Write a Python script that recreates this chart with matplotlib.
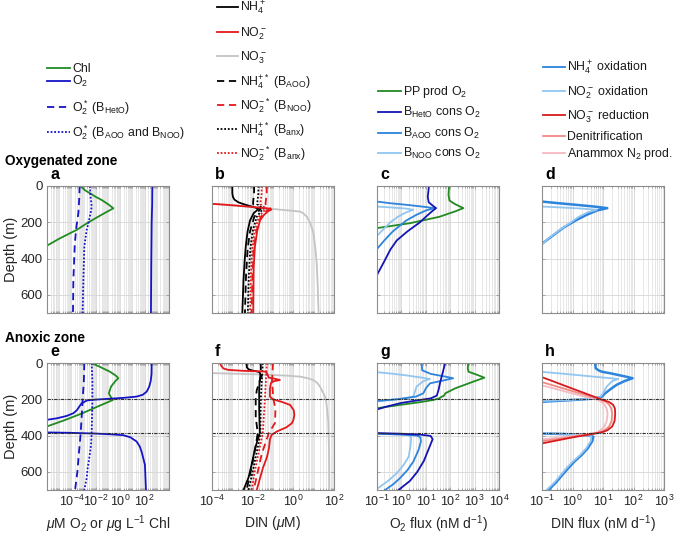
import numpy as np
import matplotlib
matplotlib.use("Agg")
import matplotlib.pyplot as plt
from matplotlib.lines import Line2D
from matplotlib.ticker import FixedLocator, LogLocator, NullFormatter

plt.rcParams['font.family'] = ['Liberation Sans', 'DejaVu Sans']
plt.rcParams['mathtext.fontset'] = 'custom'
plt.rcParams['mathtext.rm'] = 'Liberation Sans'
plt.rcParams['mathtext.it'] = 'Liberation Sans:italic'
plt.rcParams['mathtext.bf'] = 'Liberation Sans:bold'

# ---------------- data (depth in m, values as log10) ----------------
# panel a (oxygenated) : concentrations
a_chl_z = [0, 22, 40, 60, 77, 100, 123, 150, 169, 200, 242, 288, 336]
a_chl = [-3.24, -2.92, -2.48, -2.0, -1.52, -1.0, -0.56, -1.3, -1.8, -2.6, -3.57, -4.93, -6.2]
a_o2_z = [0, 100, 200, 400, 700]
a_o2 = [2.63, 2.62, 2.58, 2.55, 2.52]
a_o2het_z = [0, 60, 150, 240, 330, 520, 700]
a_o2het = [-3.33, -3.35, -3.43, -3.62, -3.73, -3.84, -3.87]
a_o2aoo_z = [0, 60, 114, 150, 206, 242, 334, 518, 700]
a_o2aoo = [-2.48, -2.43, -2.34, -2.43, -2.61, -2.75, -2.94, -3.02, -3.08]

# panel e (anoxic)
e_o2_z = [0, 60, 100, 130, 158, 175, 185, 192, 198, 203, 207, 215, 222, 240, 260, 277, 292, 305, 318,
          350,
          382, 385, 389, 393, 398, 410, 433, 460, 490, 562, 700]
e_o2 = [2.58, 2.57, 2.5, 2.38, 2.17, 1.85, 1.35, 0.3, -1.1, -2.3, -2.75, -2.95, -3.16, -3.35, -3.55, -3.84, -4.4, -5.2, -6.5,
        np.nan,
        -6.5, -4.0, -2.0, -0.8, 0.26, 0.85, 1.35, 1.6, 1.76, 2.03, 2.11]
e_chl_z = [0, 20, 48, 70, 84, 100, 130, 167, 190, 204, 240, 277, 315, 352]
e_chl = [-2.34, -1.7, -0.84, -0.35, -0.15, -0.4, -0.75, -0.93, -0.75, -0.6, -1.85, -3.1, -4.55, -6.1]
e_o2het_z = [0, 100, 204, 300, 385, 450, 507, 600, 700]
e_o2het = [-2.94, -2.98, -3.08, -3.16, -3.24, -3.32, -3.4, -3.51, -3.7]
e_o2aoo_z = [0, 100, 204, 385, 452, 507, 580, 635, 700]
e_o2aoo = [-2.34, -2.28, -2.28, -2.34, -2.39, -2.5, -2.67, -2.75, -2.94]

# panel b (oxygenated) : DIN
b_nh4_z = [0, 40, 60, 75, 90, 100, 110, 118, 125, 135, 150, 190, 250, 334, 420, 520, 700]
b_nh4 = [-3.0, -3.0, -2.97, -2.9, -2.7, -2.45, -2.15, -1.9, -1.72, -1.8, -1.95, -2.13, -2.25, -2.34, -2.4, -2.45, -2.51]
b_no2_z = [96, 102, 108, 114, 120, 125, 130, 140, 160, 190, 250, 334, 450, 700]
b_no2 = [-4.3, -3.5, -2.8, -2.2, -1.6, -1.15, -1.08, -1.25, -1.45, -1.64, -1.78, -1.89, -1.95, -1.97]
b_no3_z = [96, 102, 108, 114, 120, 125, 130, 135, 141, 150, 169, 200, 261, 340, 426, 550, 700]
b_no3 = [-4.3, -3.5, -2.8, -2.2, -1.6, -1.15, -0.7, -0.2, 0.33, 0.48, 0.66, 0.82, 0.99, 1.08, 1.15, 1.2, 1.24]
b_star_z = [0, 40, 80, 100, 115, 125, 140, 170, 250, 350, 500, 700]
b_nh4_aoo = [-1.93, -1.93, -1.97, -1.98, -1.8, -1.6, -1.72, -1.92, -2.13, -2.25, -2.33, -2.38]
b_no2_noo = [-1.31, -1.31, -1.35, -1.37, -1.25, -1.12, -1.35, -1.6, -1.82, -1.95, -2.01, -2.05]
b_nh4_anx = [-1.72, -1.72, -1.76, -1.78, -1.6, -1.45, -1.6, -1.8, -2.0, -2.12, -2.19, -2.24]
b_no2_anx = [-1.56, -1.56, -1.6, -1.62, -1.45, -1.3, -1.47, -1.7, -1.9, -2.02, -2.09, -2.13]

# panel f (anoxic) : DIN
f_nh4_z = [0, 25, 35, 42, 48, 55, 65, 72, 80, 100, 150, 250, 385, 420, 480, 560, 630, 700]
f_nh4 = [-2.3, -2.28, -2.2, -2.0, -1.72, -1.64, -1.62, -1.55, -1.62, -1.66, -1.68, -1.68, -1.65, -1.75, -1.9, -2.05, -2.2, -2.45]
f_no2_z = [0, 15, 30, 38, 43, 47, 55, 70, 81, 88, 94, 100, 110, 140, 186, 200, 215, 231, 260, 287, 315, 333,
           355, 378, 397, 420, 470, 520, 580, 640, 700]
f_no2 = [-3.61, -3.55, -3.44, -3.2, -2.5, -1.4, -1.3, -1.25, -1.2, -0.85, -0.66, -0.95, -1.1, -1.15, -1.15, -1.0,
         -0.55, -0.16, 0.02, 0.05, 0.0, -0.08, -0.35, -0.82, -1.07, -1.15, -1.2, -1.3, -1.5, -1.65, -1.8]
f_no3_z = [55, 60, 65, 70, 75, 85, 94, 110, 130, 160, 186, 213, 323, 500, 700]
f_no3 = [-4.3, -2.5, -1.2, -0.3, 0.33, 0.75, 0.98, 1.18, 1.31, 1.45, 1.56, 1.62, 1.72, 1.76, 1.77]
f_nh4_aoo_z = [0, 50, 100, 150, 200, 300, 385, 420, 500, 600, 700]
f_nh4_aoo = [-1.6, -1.6, -1.65, -1.8, -1.85, -1.85, -1.75, -1.8, -1.92, -2.1, -2.3]
f_anx_z = [0, 100, 200, 385, 450, 500, 600, 700]
f_nh4_anx = [-1.5, -1.55, -1.6, -1.62, -1.72, -1.82, -2.0, -2.2]
f_no2_anx = [-1.3, -1.35, -1.4, -1.5, -1.62, -1.72, -1.9, -2.05]
f_no2_noo_z = [0, 100, 200, 250, 330, 385, 450, 500, 600, 700]
f_no2_noo = [-1.0, -1.05, -0.98, -0.88, -0.9, -1.2, -1.4, -1.55, -1.75, -1.95]

# panel c (oxygenated) : O2 fluxes
c_pp_z = [0, 50, 80, 100, 122, 140, 170, 205, 232, 245]
c_pp = [1.95, 1.93, 1.97, 2.2, 2.54, 2.2, 1.55, 0.35, -1.0, -1.6]
c_het_z = [0, 60, 90, 110, 122, 140, 170, 200, 250, 300, 350, 420, 490]
c_het = [1.13, 1.08, 1.12, 1.3, 1.42, 1.25, 1.0, 0.76, 0.25, -0.19, -0.45, -0.72, -1.0]
c_aoo_z = [85, 95, 105, 115, 122, 135, 160, 190, 250, 300, 355]
c_aoo = [-1.05, -0.45, 0.3, 0.95, 1.35, 1.0, 0.6, 0.2, -0.35, -0.7, -1.05]
c_noo_z = [113, 118, 124, 131, 145, 170, 200, 240, 282]
c_noo = [-1.05, -0.45, 0.15, 0.49, 0.2, -0.15, -0.45, -0.75, -1.05]

# panel g (anoxic) : O2 fluxes
g_pp_z = [0, 30, 48, 65, 81, 100, 140, 167, 180, 186, 195, 204, 215, 230, 250]
g_pp = [2.74, 2.72, 2.75, 3.1, 3.4, 3.0, 2.2, 1.8, 1.75, 1.65, 1.55, 1.3, 0.8, 0.0, -1.05]
g_het_z = [0, 50, 100, 150, 180, 195, 205, 220, 240, 258, 320,
           386, 390, 395, 402, 420, 440, 480, 540, 600, 650, 700]
g_het = [1.79, 1.7, 1.6, 1.52, 1.45, 1.2, 0.7, 0.0, -0.6, -1.05, np.nan,
         -1.1, 0.0, 0.8, 1.2, 1.28, 1.22, 1.1, 0.92, 0.65, 0.35, -0.12]
g_aoo_z = [0, 40, 60, 75, 84, 100, 112, 140, 167, 185, 200, 210, 300,
           390, 394, 400, 410, 433, 480, 543, 590, 635, 670, 700]
g_aoo = [0.83, 0.85, 1.2, 1.8, 2.12, 1.6, 1.17, 1.0, 0.9, 0.6, -0.2, -1.05, np.nan,
         -1.05, 0.0, 0.65, 0.78, 0.8, 0.7, 0.49, 0.25, -0.06, -0.35, -0.67]
g_noo_z = [50, 60, 70, 80, 88, 100, 130, 160, 186, 195, 205, 212, 300,
           388, 392, 398, 410, 450, 516, 560, 608, 650, 689, 700]
g_noo = [-1.05, -0.3, 0.3, 0.8, 1.17, 0.9, 0.62, 0.55, 0.48, 0.2, -0.5, -1.05, np.nan,
         -1.05, -0.3, 0.3, 0.4, 0.38, 0.3, 0.1, -0.19, -0.55, -0.95, -1.05]

# panel d (oxygenated) : DIN fluxes
d_nh4ox_z = [85, 95, 105, 114, 122, 135, 160, 190, 230, 280, 325]
d_nh4ox = [-1.05, -0.45, 0.2, 0.75, 1.14, 0.8, 0.45, 0.1, -0.3, -0.7, -1.05]
d_no2ox_z = [113, 118, 124, 131, 145, 170, 200, 240, 290, 330]
d_no2ox = [-1.05, -0.4, 0.25, 0.79, 0.5, 0.2, -0.05, -0.4, -0.8, -1.05]

# panel h (anoxic) : DIN fluxes
h_nh4ox_z = [0, 29, 40, 48, 57, 66, 75, 84, 100, 120, 140, 167, 186, 196, 202, 208, 214, 300,
             388, 392, 398, 406, 430, 470, 507, 545, 580, 620, 660, 700]
h_nh4ox = [0.74, 0.76, 0.85, 0.96, 1.25, 1.5, 1.75, 1.97, 1.7, 1.45, 1.28, 1.07, 0.96, 0.7, 0.2, -0.4, -1.05, np.nan,
           -1.05, -0.2, 0.45, 0.68, 0.65, 0.5, 0.3, 0.05, -0.14, -0.35, -0.55, -0.79]
h_no2ox_z = [48, 60, 70, 80, 88, 100, 130, 167, 186, 196, 203, 210, 300,
             386, 390, 396, 404, 430, 470, 507, 545, 580, 620, 660, 700]
h_no2ox = [-1.05, -0.25, 0.375, 1.0, 1.5, 1.3, 1.12, 1.0, 0.92, 0.6, 0.0, -1.05, np.nan,
           -1.05, -0.3, 0.4, 0.62, 0.6, 0.45, 0.25, 0.0, -0.2, -0.4, -0.6, -0.85]
h_no3red_z = [75, 100, 130, 160, 185, 204, 215, 230, 250, 280, 320, 350, 370, 380, 390, 410, 430, 445]
h_no3red = [-1.05, -0.65, -0.18, 0.3, 0.7, 1.0, 1.2, 1.33, 1.39, 1.4, 1.38, 1.3, 1.15, 1.0, 0.7, 0.0, -0.6, -1.05]
h_denit_z = [103, 130, 160, 185, 204, 215, 230, 250, 280, 320, 350, 370, 382, 395, 410, 432]
h_denit = [-1.05, -0.5, 0.1, 0.6, 0.95, 1.1, 1.2, 1.27, 1.3, 1.28, 1.2, 1.05, 0.92, 0.45, -0.1, -1.05]
h_anx_z = [121, 145, 170, 190, 204, 215, 230, 250, 280, 320, 350, 370, 383, 395, 408, 422]
h_anx = [-1.05, -0.5, 0.05, 0.5, 0.85, 0.95, 1.05, 1.12, 1.15, 1.12, 1.05, 0.92, 0.8, 0.35, -0.3, -1.05]

anoxic_bounds = [200, 385]

# legend labels
leg1_labels = ['Chl', 'O$\\mathregular{_2}$', 'O$\\mathregular{_2^*}$ (B$\\mathregular{_{HetO}}$)',
               'O$\\mathregular{_2^*}$ (B$\\mathregular{_{AOO}}$ and B$\\mathregular{_{NOO}}$)']
leg2_labels = ['NH$\\mathregular{_4^+}$', 'NO$\\mathregular{_2^-}$', 'NO$\\mathregular{_3^-}$',
               'NH$\\mathregular{_4^{+*}}$ (B$\\mathregular{_{AOO}}$)',
               'NO$\\mathregular{_2^{-*}}$ (B$\\mathregular{_{NOO}}$)',
               'NH$\\mathregular{_4^{+*}}$ (B$\\mathregular{_{anx}}$)',
               'NO$\\mathregular{_2^{-*}}$ (B$\\mathregular{_{anx}}$)']
leg3_labels = ['PP prod O$\\mathregular{_2}$', 'B$\\mathregular{_{HetO}}$ cons O$\\mathregular{_2}$',
               'B$\\mathregular{_{AOO}}$ cons O$\\mathregular{_2}$', 'B$\\mathregular{_{NOO}}$ cons O$\\mathregular{_2}$']
leg4_labels = ['NH$\\mathregular{_4^+}$ oxidation', 'NO$\\mathregular{_2^-}$ oxidation',
               'NO$\\mathregular{_3^-}$ reduction', 'Denitrification', 'Anammox N$\\mathregular{_2}$ prod.']

# ---------------- styling ----------------
GREEN = '#218a21'
BLUE = '#1414c8'
DKBLUE = '#1414b4'
MEDBLUE = '#2c84dc'
LTBLUE = '#92c6f0'
RED = '#e3191c'
GRAY = '#c4c4c4'
NO3RED = '#d61a1f'
DENIT = '#f08a80'
ANX = '#f6b9c3'
DASH = (0, (4, 2.6))
DOT = (0, (1, 1))
LW = 1.3

W, H = 674, 538
fig = plt.figure(figsize=(W / 100, H / 100), dpi=100)

lefts = [47, 212, 377, 542]
tops = [186, 363]
aw, ah = 122, 127


def mkax(col, row):
    l = lefts[col] / W
    b = 1 - (tops[row] + ah) / H
    return fig.add_axes([l, b, aw / W, ah / H])


xlims = [(1e-6, 1e4), (1e-4, 1e2), (1e-1, 1e4), (1e-1, 1e3)]
xmajors = [[1e-4, 1e-2, 1, 1e2], [1e-4, 1e-2, 1, 1e2],
           [1e-1, 1, 1e1, 1e2, 1e3, 1e4], [1e-1, 1, 1e1, 1e2, 1e3]]
xlabels = ['$\\mu$M O$\\mathregular{_2}$ or $\\mu$g L$\\mathregular{^{-1}}$ Chl',
           'DIN ($\\mu$M)',
           'O$\\mathregular{_2}$ flux (nM d$\\mathregular{^{-1}}$)',
           'DIN flux (nM d$\\mathregular{^{-1}}$)']
plabels = [['a', 'b', 'c', 'd'], ['e', 'f', 'g', 'h']]

axes = {}
for row in range(2):
    for col in range(4):
        ax = mkax(col, row)
        ax.set_xscale('log')
        ax.set_xlim(*xlims[col])
        ax.set_ylim(700, 0)
        ax.xaxis.set_major_locator(FixedLocator(xmajors[col]))
        ax.xaxis.set_minor_locator(LogLocator(base=10, subs=np.arange(1, 10), numticks=40))
        ax.xaxis.set_minor_formatter(NullFormatter())
        ax.set_yticks([0, 200, 400, 600])
        ax.grid(True, which='minor', axis='x', color='#e3e3e3', lw=0.6)
        ax.grid(True, which='major', axis='x', color='#d6d6d6', lw=0.6)
        ax.grid(True, which='major', axis='y', color='#d6d6d6', lw=0.6)
        ax.set_axisbelow(True)
        for s in ax.spines.values():
            s.set_color('#8c8c8c')
            s.set_linewidth(0.8)
        ax.tick_params(which='both', direction='in', length=2.5, width=0.5, colors='#8c8c8c',
                       labelcolor='#262626', labelsize=9.5, top=True, right=True, pad=3)
        ax.tick_params(which='minor', length=1.2)
        ax.tick_params(axis='x', labelsize=9)
        if col != 0:
            ax.set_yticklabels([])
        else:
            ax.set_ylabel('Depth (m)', fontsize=10.5, color='#262626', labelpad=2)
        if row == 0:
            ax.set_xticklabels([])
        else:
            ax.set_xlabel(xlabels[col], fontsize=10, color='#262626', labelpad=3)
        ax.text(0.025, 1.03, plabels[row][col], transform=ax.transAxes, fontsize=11.5,
                fontweight='bold', ha='left', va='bottom')
        axes[(row, col)] = ax


def P(ax, v, z, **kw):
    ax.plot(10 ** np.array(v, dtype=float), z, **kw)


# a
ax = axes[(0, 0)]
P(ax, a_chl, a_chl_z, color=GREEN, lw=LW)
P(ax, a_o2, a_o2_z, color=BLUE, lw=LW)
P(ax, a_o2het, a_o2het_z, color=BLUE, lw=LW, ls=DASH)
P(ax, a_o2aoo, a_o2aoo_z, color=BLUE, lw=LW, ls=DOT)
# e
ax = axes[(1, 0)]
P(ax, e_chl, e_chl_z, color=GREEN, lw=LW)
P(ax, e_o2, e_o2_z, color=BLUE, lw=LW)
P(ax, e_o2het, e_o2het_z, color=BLUE, lw=LW, ls=DASH)
P(ax, e_o2aoo, e_o2aoo_z, color=BLUE, lw=LW, ls=DOT)
# b
ax = axes[(0, 1)]
P(ax, b_no3, b_no3_z, color=GRAY, lw=LW)
P(ax, b_nh4_aoo, b_star_z, color='k', lw=LW, ls=DASH)
P(ax, b_nh4_anx, b_star_z, color='k', lw=LW, ls=DOT)
P(ax, b_no2_noo, b_star_z, color=RED, lw=LW, ls=DASH)
P(ax, b_no2_anx, b_star_z, color=RED, lw=LW, ls=DOT)
P(ax, b_nh4, b_nh4_z, color='k', lw=LW)
P(ax, b_no2, b_no2_z, color=RED, lw=LW)
# f
ax = axes[(1, 1)]
P(ax, f_no3, f_no3_z, color=GRAY, lw=LW)
P(ax, f_nh4_aoo, f_nh4_aoo_z, color='k', lw=LW, ls=DASH)
P(ax, f_nh4_anx, f_anx_z, color='k', lw=LW, ls=DOT)
P(ax, f_no2_noo, f_no2_noo_z, color=RED, lw=LW, ls=DASH)
P(ax, f_no2_anx, f_anx_z, color=RED, lw=LW, ls=DOT)
P(ax, f_nh4, f_nh4_z, color='k', lw=LW)
P(ax, f_no2, f_no2_z, color=RED, lw=LW)
# c
ax = axes[(0, 2)]
P(ax, c_pp, c_pp_z, color=GREEN, lw=LW)
P(ax, c_noo, c_noo_z, color=LTBLUE, lw=LW)
P(ax, c_aoo, c_aoo_z, color=MEDBLUE, lw=LW)
P(ax, c_het, c_het_z, color=DKBLUE, lw=LW)
# g
ax = axes[(1, 2)]
P(ax, g_pp, g_pp_z, color=GREEN, lw=LW)
P(ax, g_noo, g_noo_z, color=LTBLUE, lw=LW)
P(ax, g_aoo, g_aoo_z, color=MEDBLUE, lw=LW)
P(ax, g_het, g_het_z, color=DKBLUE, lw=LW)
# d
ax = axes[(0, 3)]
P(ax, d_nh4ox, d_nh4ox_z, color=MEDBLUE, lw=1.8)
P(ax, d_no2ox, d_no2ox_z, color=LTBLUE, lw=LW)
# h
ax = axes[(1, 3)]
P(ax, h_nh4ox, h_nh4ox_z, color=MEDBLUE, lw=1.8)
P(ax, h_no2ox, h_no2ox_z, color=LTBLUE, lw=LW)
P(ax, h_anx, h_anx_z, color=ANX, lw=LW)
P(ax, h_denit, h_denit_z, color=DENIT, lw=LW)
P(ax, h_no3red, h_no3red_z, color=NO3RED, lw=LW)

for col in range(4):
    for zb in anoxic_bounds:
        axes[(1, col)].axhline(zb, color='#303030', lw=0.8, ls=(0, (3, 1, 1, 1)))

# zone titles
fig.text(5 / W, 1 - 161 / H, 'Oxygenated zone', fontsize=9.8, fontweight='bold', va='center', ha='left')
fig.text(5 / W, 1 - 338 / H, 'Anoxic zone', fontsize=9.8, fontweight='bold', va='center', ha='left')


# legends drawn as handle lines + texts in figure pixel positions
def legend_block(x0, x1, xt, ys, styles, labels, fs=8.9):
    for y, (c, ls, lw), lab in zip(ys, styles, labels):
        fig.add_artist(Line2D([x0 / W, x1 / W], [1 - y / H, 1 - y / H], color=c, ls=ls, lw=lw,
                              transform=fig.transFigure))
        fig.text(xt / W, 1 - (y + 4.2) / H, lab, fontsize=fs, ha='left', va='baseline', color='#1a1a1a')


legend_block(47, 70, 72, [68, 81, 107, 132],
             [(GREEN, '-', LW), (BLUE, '-', LW), (BLUE, DASH, LW), (BLUE, DOT, LW)], leg1_labels)
legend_block(217, 238, 240, [7, 32, 56, 81, 105, 129, 153],
             [('k', '-', LW), (RED, '-', LW), (GRAY, '-', LW), ('k', DASH, LW), (RED, DASH, LW),
              ('k', DOT, LW), (RED, DOT, LW)], leg2_labels)
legend_block(378, 401, 403, [91, 112, 133, 153],
             [(GREEN, '-', LW), (DKBLUE, '-', LW), (MEDBLUE, '-', LW), (LTBLUE, '-', LW)], leg3_labels)
legend_block(543, 565, 567, [67, 91, 115, 136, 153],
             [(MEDBLUE, '-', LW), (LTBLUE, '-', LW), (NO3RED, '-', LW), (DENIT, '-', LW), (ANX, '-', LW)],
             leg4_labels)

fig.savefig('out.png', dpi=100)
